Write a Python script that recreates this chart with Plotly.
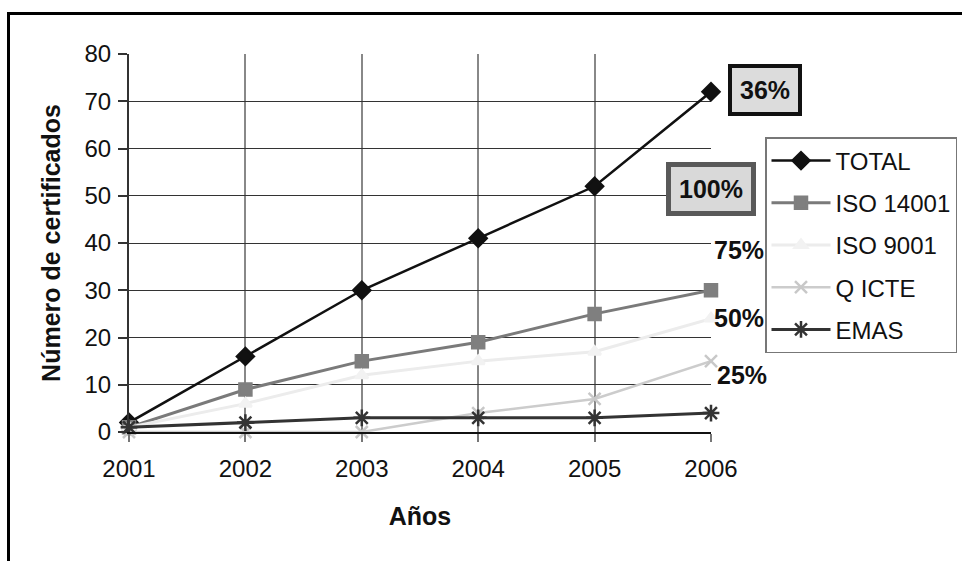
import plotly.graph_objects as go

# Certificados por año y por norma
years = [2001, 2002, 2003, 2004, 2005, 2006]
total = [2, 16, 30, 41, 52, 72]
iso_14001 = [1, 9, 15, 19, 25, 30]
iso_9001 = [1, 6, 12, 15, 17, 24]
q_icte = [0, 0, 0, 4, 7, 15]
emas = [1, 2, 3, 3, 3, 4]

y_ticks = [0, 10, 20, 30, 40, 50, 60, 70, 80]

FONT = "Liberation Sans, Arial, sans-serif"

series = [
    ("TOTAL", total, "#111111", 2.5, "diamond", 13, "#111111"),
    ("ISO 14001", iso_14001, "#7a7a7a", 3, "square", 12, "#7f7f7f"),
    ("ISO 9001", iso_9001, "#ececec", 3, "triangle-up", 11, "#f2f2f2"),
    ("Q ICTE", q_icte, "#cccccc", 2.5, "x-thin-open", 12, "#c8c8c8"),
    ("EMAS", emas, "#333333", 3, "asterisk-open", 14, "#333333"),
]

fig = go.Figure()
for name, vals, lcol, lw, sym, msize, mcol in series:
    fig.add_trace(go.Scatter(
        x=years, y=vals, name=name, mode="lines+markers",
        legendgroup=name,
        line=dict(color=lcol, width=lw),
        marker=dict(symbol=sym, size=msize, color=mcol,
                    line=dict(color=mcol, width=2.5)),
        cliponaxis=False,
    ))

# Plot area in pixels: x 129..711, y 54..432
L, R, T, B = 129, 711, 54, 432
W, H = R - L, B - T


def px(xp):
    return (xp - L) / W


def py(yp):
    return (B - yp) / H


shapes = [
    # outer frame of the figure
    dict(type="rect", xref="paper", yref="paper",
         x0=px(8.5), x1=px(975), y0=py(13.5), y1=py(575),
         line=dict(color="#000000", width=3), layer="below"),
]


def label(text, xc, yc, **box):
    return dict(text=f"<b>{text}</b>", xref="paper", yref="paper",
                x=px(xc), y=py(yc), xanchor="center", yanchor="middle",
                showarrow=False, font=dict(family=FONT, size=25, color="#111111"),
                **box)


annotations = [
    label("36%", 765, 89.5, bgcolor="#dcdcdc", bordercolor="#111111",
          borderwidth=4, borderpad=8),
    label("100%", 710.5, 188.5, bgcolor="#d9d9d9", bordercolor="#595959",
          borderwidth=5, borderpad=8),
    label("75%", 739, 250),
    label("50%", 739, 318),
    label("25%", 742, 375),
]

fig.update_layout(
    width=962, height=561,
    margin=dict(l=L, r=962 - R, t=T, b=561 - B, pad=0, autoexpand=False),
    paper_bgcolor="#ffffff", plot_bgcolor="#ffffff",
    font=dict(family=FONT, size=24, color="#111111"),
    shapes=shapes, annotations=annotations,
    showlegend=True,
    legend=dict(x=px(765), y=py(137), xanchor="left", yanchor="top",
                bgcolor="#ffffff", bordercolor="#777777", borderwidth=1.5,
                font=dict(family=FONT, size=24, color="#111111"),
                itemwidth=59, tracegroupgap=8,
                traceorder="grouped"),
)

fig.update_xaxes(
    range=[2001, 2006], tickvals=years, ticktext=[str(y) for y in years],
    showgrid=True, gridcolor="#888888", gridwidth=1.5,
    showline=True, linecolor="#111111", linewidth=1.5,
    ticks="outside", ticklen=8, tickcolor="#777777", tickwidth=1.5,
    ticklabelstandoff=6, zeroline=False,
    title=dict(text="<b>Años</b>", font=dict(family=FONT, size=25, color="#111111"),
               standoff=27),
)
fig.update_yaxes(
    range=[0, 80], tickvals=y_ticks,
    showgrid=True, gridcolor="#333333", gridwidth=1,
    showline=True, linecolor="#333333", linewidth=2,
    ticks="outside", ticklen=9, tickcolor="#333333", tickwidth=1.5,
    ticklabelstandoff=2, zeroline=False,
    title=dict(text="<b>Número de certificados</b>",
               font=dict(family=FONT, size=25, color="#111111"), standoff=17),
)

fig.write_html("out.html")
